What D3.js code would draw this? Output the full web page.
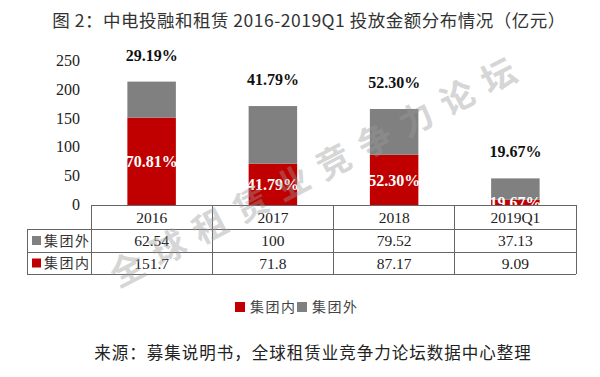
<!DOCTYPE html>
<html>
<head>
<meta charset="utf-8">
<script src="https://cdn.jsdelivr.net/npm/d3@7"></script>
<style>
  body { margin: 0; background: #fff; }
  svg { display: block; }
</style>
</head>
<body>
<svg width="600" height="377"></svg>
<script>
let categories = ["2016", "2017", "2018", "2019Q1"],
    outside = [62.54, 100, 79.52, 37.13],   // 集团外
    inside = [151.7, 71.8, 87.17, 9.09],    // 集团内
    topLabels = ["29.19%", "41.79%", "52.30%", "19.67%"],
    innerLabels = ["70.81%", "41.79%", "52.30%", "19.67%"],
    yTicks = [0, 50, 100, 150, 200, 250];

let svg = d3.select("svg"),
    red = "#c00000",
    grey = "#808080",
    serif = "'Liberation Serif', 'Times New Roman', serif",
    cjk = "'Noto Sans CJK SC', sans-serif";

let x = d3.scaleBand().domain(categories).range([91, 576]).paddingInner(0.6).paddingOuter(0.3),
    y = d3.scaleLinear().domain([0, 250]).range([205, 61]);

// clip so the inner labels get cut at the table like in the source
svg.append("defs").append("clipPath").attr("id", "plot")
  .append("rect").attr("x", 85).attr("y", 0).attr("width", 500).attr("height", y(0));

// title
svg.append("text")
    .attr("x", 309).attr("y", 27)
    .attr("text-anchor", "middle")
    .attr("font-family", cjk).attr("font-size", 17.5).attr("fill", "#333")
    .attr("letter-spacing", 0.5)
    .text("图 2：中电投融和租赁 2016-2019Q1 投放金额分布情况（亿元）");

// y axis labels
svg.append("g").selectAll("text")
  .data(yTicks)
  .join("text")
    .attr("x", 80).attr("y", d => y(d) + 5)
    .attr("text-anchor", "end")
    .attr("font-family", serif).attr("font-size", 16).attr("fill", "#222")
    .text(d => d);

let data = categories.map((c, i) => ({c: c, inn: inside[i], out: outside[i], top: topLabels[i], mid: innerLabels[i]}));

let bars = svg.append("g");
bars.selectAll(".in")
  .data(data)
  .join("rect")
    .attr("x", d => x(d.c)).attr("width", x.bandwidth())
    .attr("y", d => y(d.inn)).attr("height", d => y(0) - y(d.inn))
    .attr("fill", red);
bars.selectAll(".out")
  .data(data)
  .join("rect")
    .attr("x", d => x(d.c)).attr("width", x.bandwidth())
    .attr("y", d => y(d.inn + d.out)).attr("height", d => y(d.inn) - y(d.inn + d.out))
    .attr("fill", grey);

// labels inside red part
bars.append("g").attr("clip-path", "url(#plot)")
  .selectAll("text")
  .data(data)
  .join("text")
    .attr("x", d => x(d.c) + x.bandwidth() / 2)
    .attr("y", d => (y(d.inn) + y(0)) / 2 + 6)
    .attr("text-anchor", "middle")
    .attr("font-family", serif).attr("font-weight", "bold").attr("font-size", 16).attr("fill", "#fff")
    .text(d => d.mid);

// labels above bars
bars.selectAll(".top")
  .data(data)
  .join("text")
    .attr("x", d => x(d.c) + x.bandwidth() / 2)
    .attr("y", d => y(d.inn + d.out) - 21)
    .attr("text-anchor", "middle")
    .attr("font-family", serif).attr("font-weight", "bold").attr("font-size", 16).attr("fill", "#111")
    .text(d => d.top);

// data table
let colW = x.step(),
    rows = [205, 229, 252, 274],
    left = 27, firstCol = 91, right = 576;

let table = svg.append("g");
let lineStyle = sel => sel.attr("stroke", "#666").attr("stroke-width", 1).attr("shape-rendering", "crispEdges");
table.append("line").attr("x1", firstCol).attr("x2", right).attr("y1", rows[0]).attr("y2", rows[0]).call(lineStyle);
[rows[1], rows[2], rows[3]].forEach(r => {
  table.append("line").attr("x1", left).attr("x2", right).attr("y1", r).attr("y2", r).call(lineStyle);
});
table.append("line").attr("x1", left).attr("x2", left).attr("y1", rows[1]).attr("y2", rows[3]).call(lineStyle);
d3.range(categories.length + 1).forEach(i => {
  let xx = firstCol + i * colW;
  table.append("line").attr("x1", xx).attr("x2", xx).attr("y1", rows[0]).attr("y2", rows[3]).call(lineStyle);
});

table.selectAll(".head")
  .data(categories)
  .join("text")
    .attr("x", d => x(d) + x.bandwidth() / 2).attr("y", (rows[0] + rows[1]) / 2 + 5.5)
    .attr("text-anchor", "middle")
    .attr("font-family", serif).attr("font-size", 15.5).attr("fill", "#222")
    .text(d => d);

let tableRows = [
  {name: "集团外", color: grey, values: outside},
  {name: "集团内", color: red, values: inside}
];
tableRows.forEach((r, i) => {
  let mid = (rows[i + 1] + rows[i + 2]) / 2;
  table.append("rect").attr("x", 32).attr("y", mid - 4.5).attr("width", 9).attr("height", 9).attr("fill", r.color);
  table.append("text")
      .attr("x", 44).attr("y", mid + 5)
      .attr("font-family", cjk).attr("font-size", 14).attr("fill", "#333").attr("letter-spacing", 1.5)
      .text(r.name);
  table.selectAll(".v" + i)
    .data(r.values)
    .join("text")
      .attr("x", (d, j) => x(categories[j]) + x.bandwidth() / 2).attr("y", mid + 5.5)
      .attr("text-anchor", "middle")
      .attr("font-family", serif).attr("font-size", 15.5).attr("fill", "#222")
      .text(d => d);
});

// legend
let legend = svg.append("g").attr("transform", "translate(235,307)");
[{name: "集团内", color: red}, {name: "集团外", color: grey}].forEach((l, i) => {
  let g = legend.append("g").attr("transform", "translate(" + (i * 62) + ",0)");
  g.append("rect").attr("x", 0).attr("y", -5).attr("width", 10).attr("height", 10).attr("fill", l.color);
  g.append("text").attr("x", 15).attr("y", 5)
      .attr("font-family", cjk).attr("font-size", 14).attr("fill", "#444").attr("letter-spacing", 1.5)
      .text(l.name);
});

// source
svg.append("text")
    .attr("x", 313).attr("y", 359)
    .attr("text-anchor", "middle")
    .attr("font-family", cjk).attr("font-size", 16.5).attr("fill", "#222").attr("letter-spacing", 1)
    .text("来源：募集说明书，全球租赁业竞争力论坛数据中心整理");

// watermark
svg.append("text")
    .attr("transform", "translate(118,288) rotate(-27.5)")
    .attr("font-family", cjk).attr("font-weight", "bold").attr("font-size", 34)
    .attr("fill", "#9a9a9a").attr("opacity", 0.4).attr("letter-spacing", 12.5)
    .text("全球租赁业竞争力论坛");
</script>
</body>
</html>
